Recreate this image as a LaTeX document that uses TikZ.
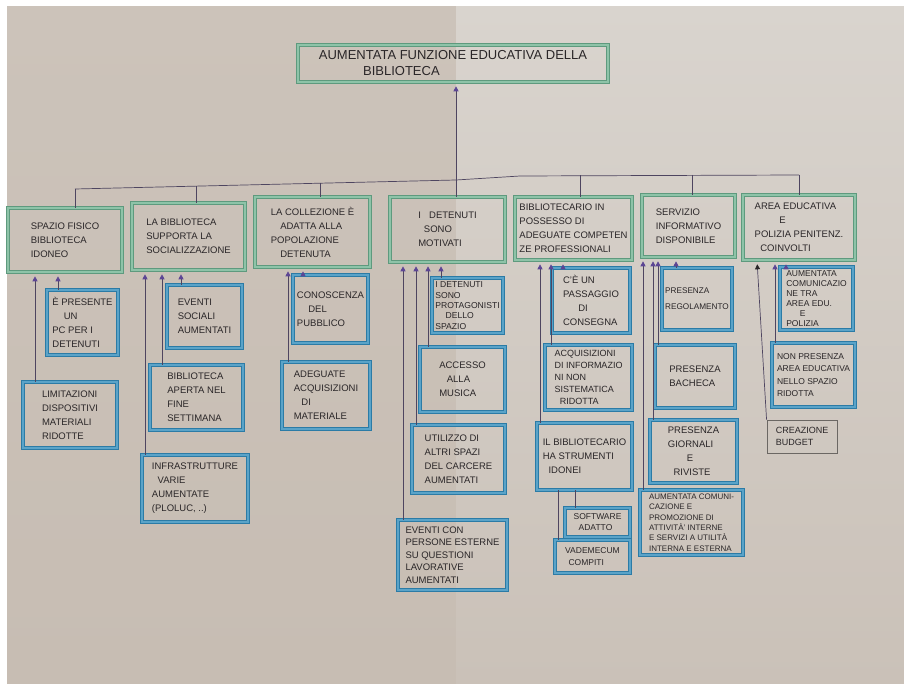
\documentclass[tikz,border=0pt]{standalone}
\usepackage{fontspec}
\setmainfont{Liberation Sans}
\usetikzlibrary{arrows.meta}

\definecolor{paperLtop}{HTML}{CCC3BA}
\definecolor{paperLbot}{HTML}{C7BDB3}
\definecolor{paperRtop}{HTML}{D9D4CE}
\definecolor{paperRbot}{HTML}{CAC1B8}
\definecolor{ink}{HTML}{2A2628}
\definecolor{greenpen}{HTML}{5E9A7E}
\definecolor{greenmark}{HTML}{8EC3A8}
\definecolor{bluepen}{HTML}{2B7BA6}
\definecolor{bluemark}{HTML}{5AA3C8}
\definecolor{linkc}{HTML}{4E4560}
\definecolor{tipc}{HTML}{5C4594}
\definecolor{graypen}{HTML}{6B6763}

\tikzset{
  hand/.style={font=\fontsize{9.5}{14}\selectfont, text=ink, align=left, inner sep=0pt},
  goal/.style={hand, draw=greenpen, line width=0.6pt, double=greenmark, double distance=2.4pt},
  cause/.style={hand, draw=bluepen, line width=0.6pt, double=bluemark, double distance=2.4pt},
  plain/.style={hand, draw=graypen, line width=0.9pt},
  sz/.style n args={2}{minimum width=#1pt, minimum height=#2pt},
  link/.style={draw=linkc, line width=0.7pt},
  up/.style={link, -{Triangle[width=5pt,length=5pt,color=tipc]}, shorten >=4pt},
  upk/.style={link, -{Triangle[width=5pt,length=5pt,color=ink]}, shorten >=4pt}
}

\begin{document}
\begin{tikzpicture}[x=1pt,y=-1pt]
\useasboundingbox (0,0) rectangle (904,684);
% sheet of paper, folded in the middle
\fill[white] (0,0) rectangle (904,684);
\shade[top color=paperLtop, bottom color=paperLbot] (7,7) rectangle (456,684);
\shade[top color=paperRtop, bottom color=paperRbot] (456,7) rectangle (904,684);

% goal
\node[goal, font=\fontsize{13}{16}\selectfont, sz={310}{37}] (top) at (453,63.5)
  {AUMENTATA FUNZIONE EDUCATIVA DELLA\\\hspace*{3.4em}BIBLIOTECA};

% first level
\node[goal, sz={114}{64}] (p1) at (65,240) {SPAZIO FISICO\\BIBLIOTECA\\IDONEO};
\node[goal, sz={113}{67}] (p2) at (188.5,236.5) {LA BIBLIOTECA\\SUPPORTA LA\\SOCIALIZZAZIONE};
\node[goal, sz={115}{70}] (p3) at (312.5,232) {LA COLLEZIONE È\\\hspace*{1em}ADATTA ALLA\\POPOLAZIONE\\\hspace*{1em}DETENUTA};
\node[goal, sz={115}{65}] (p4) at (447.5,229.5) {I \hspace*{0.6em}DETENUTI\\\hspace*{0.6em}SONO\\MOTIVATI};
\node[goal, sz={117}{63}] (p5) at (573.5,228.5) {BIBLIOTECARIO IN\\POSSESSO DI\\ADEGUATE COMPETEN\\ZE PROFESSIONALI};
\node[goal, sz={93}{62}] (p6) at (688.5,226) {SERVIZIO\\INFORMATIVO\\DISPONIBILE};
\node[goal, sz={112}{65}] (p7) at (799,227.5) {AREA EDUCATIVA\\\hspace*{2.6em}E\\POLIZIA PENITENZ.\\\hspace*{0.6em}COINVOLTI};

% bus joining the first level to the goal
\coordinate (bl) at (75,189);
\coordinate (b2) at (196,186);
\coordinate (b3) at (320,183);
\coordinate (bm) at (456,180);
\coordinate (bk) at (520,176);
\coordinate (b5) at (580,175.5);
\coordinate (b6) at (692,175);
\coordinate (br) at (799,175);
\draw[link] (bl) -- (bm) -- (bk) -- (br);
\draw[up] (bm) -- (bm |- top.south);
\draw[link] (bl) -- (bl |- p1.north);
\draw[link] (b2) -- (b2 |- p2.north);
\draw[link] (b3) -- (b3 |- p3.north);
\draw[link] (bm) -- (bm |- p4.north);
\draw[link] (b5) -- (b5 |- p5.north);
\draw[link] (b6) -- (b6 |- p6.north);
\draw[link] (br) -- (br |- p7.north);

% column 1
\node[cause, sz={71}{65}] (c11) at (82.5,322.5) {È PRESENTE\\\hspace*{1.2em}UN\\PC PER I\\DETENUTI};
\node[cause, sz={94}{66}] (c12) at (70,415) {LIMITAZIONI\\DISPOSITIVI\\MATERIALI\\RIDOTTE};
\draw[up] (58,0 |- c11.north) -- (58,0 |- p1.south);
\draw[up] (35,0 |- c12.north) -- (35,0 |- p1.south);

% column 2
\node[cause, sz={75}{63}] (c21) at (204.5,316.5) {EVENTI\\SOCIALI\\AUMENTATI};
\node[cause, sz={93}{65}] (c22) at (196.5,397.5) {BIBLIOTECA\\APERTA NEL\\FINE\\SETTIMANA};
\node[cause, sz={106}{67}] (c23) at (195,488.5) {INFRASTRUTTURE\\\hspace*{0.6em}VARIE\\AUMENTATE\\(PLOLUC, ..)};
\draw[up] (181,0 |- c21.north) -- (181,0 |- p2.south);
\draw[up] (162,0 |- c22.north) -- (162,0 |- p2.south);
\draw[up] (145,0 |- c23.north) -- (145,0 |- p2.south);

% column 3
\node[cause, sz={75}{68}] (c31) at (330.5,309) {CONOSCENZA\\\hspace*{1.2em}DEL\\PUBBLICO};
\node[cause, sz={88}{67}] (c32) at (326,395.5) {ADEGUATE\\ACQUISIZIONI\\\hspace*{0.8em}DI\\MATERIALE};
\draw[up] (303,0 |- c31.north) -- (303,0 |- p3.south);
\draw[up] (288,0 |- c32.north) -- (288,0 |- p3.south);

% column 4
\node[cause, font=\fontsize{8.6}{10.4}\selectfont, sz={71}{55}] (c41) at (467.5,305.5) {I DETENUTI\\SONO\\PROTAGONISTI\\\hspace*{1.2em}DELLO\\SPAZIO};
\node[cause, sz={85}{65}] (c42) at (462.5,379.5) {ACCESSO\\\hspace*{0.8em}ALLA\\MUSICA};
\node[cause, sz={93}{68}] (c43) at (458.5,459) {UTILIZZO DI\\ALTRI SPAZI\\DEL CARCERE\\AUMENTATI};
\node[cause, font=\fontsize{9.5}{12.5}\selectfont, sz={109}{70}] (c44) at (452.5,555) {EVENTI CON\\PERSONE ESTERNE\\SU QUESTIONI\\LAVORATIVE\\AUMENTATI};
\draw[up] (441,0 |- c41.north) -- (441,0 |- p4.south);
\draw[up] (428,0 |- c42.north) -- (428,0 |- p4.south);
\draw[up] (416,0 |- c43.north) -- (416,0 |- p4.south);
\draw[up] (403,0 |- c44.north) -- (403,0 |- p4.south);

% column 5
\node[cause, sz={78}{65}] (c51) at (591,300.5) {C'È UN\\PASSAGGIO\\\hspace*{1.6em}DI\\CONSEGNA};
\node[cause, font=\fontsize{9}{12}\selectfont, sz={87}{65}] (c52) at (588.5,377.5) {ACQUISIZIONI\\DI INFORMAZIO\\NI NON\\SISTEMATICA\\\hspace*{0.6em}RIDOTTA};
\node[cause, sz={95}{67}] (c53) at (584.5,456.5) {IL BIBLIOTECARIO\\HA STRUMENTI\\\hspace*{0.6em}IDONEI};
\node[cause, font=\fontsize{8.5}{11}\selectfont, sz={65}{29}] (c54) at (597.5,522.5) {SOFTWARE\\\hspace*{0.6em}ADATTO};
\node[cause, font=\fontsize{8.5}{12}\selectfont, sz={75}{33}] (c55) at (592.5,556.5) {VADEMECUM\\\hspace*{0.4em}COMPITI};
\draw[up] (563,0 |- c51.north) -- (563,0 |- p5.south);
\draw[up] (551,0 |- c52.north) -- (551,0 |- p5.south);
\draw[up] (540,0 |- c53.north) -- (540,0 |- p5.south);
\draw[link] (575,0 |- c53.south) -- (575,0 |- c54.north);
\draw[link] (558,0 |- c53.south) -- (558,0 |- c55.north);

% column 6
\node[cause, font=\fontsize{8.2}{16}\selectfont, sz={70}{62}] (c61) at (697,299) {PRESENZA\\REGOLAMENTO};
\node[cause, sz={80}{63}] (c62) at (695,376.5) {PRESENZA\\BACHECA};
\node[cause, sz={87}{63}] (c63) at (693.5,451.5) {PRESENZA\\GIORNALI\\\hspace*{2em}E\\\hspace*{0.6em}RIVISTE};
\node[cause, font=\fontsize{8}{10.3}\selectfont, sz={103}{65}] (c64) at (691.5,522.5) {AUMENTATA COMUNI-\\CAZIONE E\\PROMOZIONE DI\\ATTIVITÀ' INTERNE\\E SERVIZI A UTILITÀ\\INTERNA E ESTERNA};
\draw[up] (676,0 |- c61.north) -- (676,0 |- p6.south);
\draw[up] (658,0 |- c62.north) -- (658,0 |- p6.south);
\draw[up] (653,0 |- c63.north) -- (653,0 |- p6.south);
\draw[up] (643,0 |- c64.north) -- (643,0 |- p6.south);

% column 7
\node[cause, font=\fontsize{8.5}{9.9}\selectfont, sz={73}{63}] (c71) at (816.5,298.5) {AUMENTATA\\COMUNICAZIO\\NE TRA\\AREA EDU.\\\hspace*{1.6em}E\\POLIZIA};
\node[cause, font=\fontsize{8.5}{12.5}\selectfont, sz={83}{64}] (c72) at (813.5,375) {NON PRESENZA\\AREA EDUCATIVA\\NELLO SPAZIO\\RIDOTTA};
\node[plain, font=\fontsize{9}{12}\selectfont, sz={70}{33}] (c73) at (802,436.5) {CREAZIONE\\BUDGET};
\draw[up] (786,0 |- c71.north) -- (786,0 |- p7.south);
\draw[up] (775,0 |- c72.north) -- (775,0 |- p7.south);
\draw[upk] (c73.north west) -- (757,0 |- p7.south);
\end{tikzpicture}
\end{document}
